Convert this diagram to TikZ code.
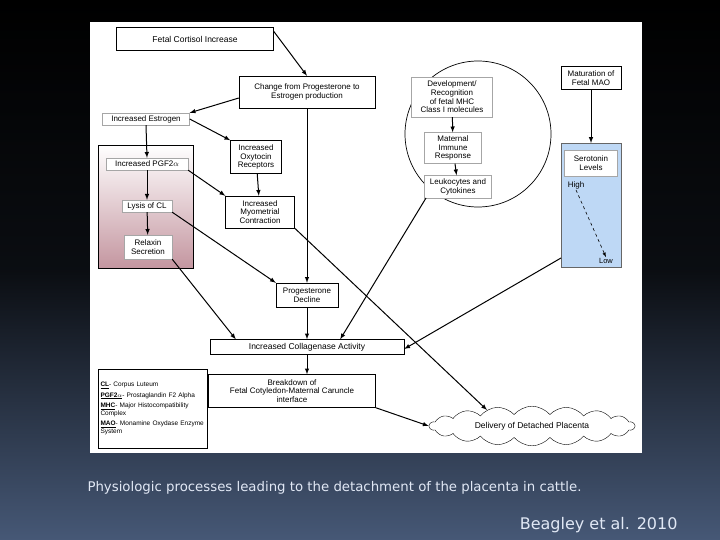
\documentclass[tikz,border=0pt]{standalone}
\usepackage{fontspec}
\setmainfont{Liberation Sans}
\newfontfamily\capfont{DejaVu Sans}
\usepackage{tikz}
\usetikzlibrary{arrows,shapes.symbols}
\definecolor{slidebot}{RGB}{70,88,118}
\definecolor{pinkbot}{RGB}{196,150,160}
\definecolor{bluebox}{RGB}{190,216,245}
\definecolor{captxt}{RGB}{225,232,245}
\tikzset{
  box/.style={draw, fill=white, align=center, font=\fontsize{8}{8.6}\selectfont, inner sep=1pt},
  gbox/.style={box, draw=gray!70},
  arr/.style={->, >=latex, line width=1pt},
}
\begin{document}
\begin{tikzpicture}[x=1pt,y=-1pt]
\useasboundingbox (0,0) rectangle (720,540);
% background
\shade[top color=black, bottom color=slidebot, middle color=black!85!slidebot] (0,0) rectangle (720,540);
\fill[white] (90,22) rectangle (642,453);
% panels
\shade[draw, top color=white, bottom color=pinkbot] (98,145) rectangle (193,268);
\filldraw[fill=bluebox, draw=black!60] (561,143) rectangle (621,267);
\draw[fill=white, line width=0.7pt] (478,134) circle (73);
% nodes
\node(cortisol) at (195,39) [box, minimum width=157, minimum height=23, font=\fontsize{8.5}{9}\selectfont] {Fetal Cortisol Increase};
\node(change) at (307,92) [box, minimum width=136, minimum height=32] {Change from Progesterone to\\Estrogen production};
\node(estrogen) at (146,119) [gbox, minimum width=87, minimum height=12] {Increased Estrogen};
\node(pgf) at (147,164) [gbox, minimum width=82, minimum height=12] {Increased PGF2$\alpha$};
\node(lysis) at (147,206) [gbox, minimum width=50, minimum height=12] {Lysis of CL};
\node(relaxin) at (148,247) [gbox, minimum width=48, minimum height=24] {Relaxin\\Secretion};
\node(oxytocin) at (256,157) [box, minimum width=51, minimum height=33] {Increased\\Oxytocin\\Receptors};
\node(myo) at (260,212) [box, minimum width=69, minimum height=32] {Increased\\Myometrial\\Contraction};
\node(mhc) at (452,97) [gbox, minimum width=81, minimum height=40] {Development/\\Recognition\\of fetal MHC\\Class I molecules};
\node(immune) at (453,148) [gbox, minimum width=57, minimum height=31] {Maternal\\Immune\\Response};
\node(leuko) at (458,187) [gbox, minimum width=67, minimum height=23] {Leukocytes and\\Cytokines};
\node(mao) at (591,78) [box, minimum width=60, minimum height=23] {Maturation of\\Fetal MAO};
\node(serotonin) at (591,163) [gbox, minimum width=53, minimum height=26] {Serotonin\\Levels};
\node(high) at (576,185) [font=\fontsize{8}{8}\selectfont, inner sep=1pt] {High};
\node(low) at (606,261) [font=\fontsize{7.5}{8}\selectfont, inner sep=1pt] {Low};
\node(progdec) at (307,295) [box, minimum width=62, minimum height=24] {Progesterone\\Decline};
\node(collag) at (307,347) [box, minimum width=194, minimum height=15, font=\fontsize{8.5}{9}\selectfont] {Increased Collagenase Activity};
\node(breakdown) at (292,391) [box, minimum width=167, minimum height=33] {Breakdown of\\Fetal Cotyledon-Maternal Caruncle\\interface};
\node(delivery) at (532,426) [draw, cloud, cloud puffs=18, cloud puff arc=100, aspect=6, minimum width=205, minimum height=30, inner sep=0pt, font=\fontsize{8.5}{9}\selectfont] {Delivery of Detached Placenta};
\node(legend) at (152.5,408.5) [draw, minimum width=109, minimum height=79, align=left, text width=104, inner sep=2pt, font=\fontsize{6.5}{7.6}\selectfont] {\underline{\textbf{CL}}- Corpus Luteum\\[3pt]\underline{\textbf{PGF2$\alpha$}}- Prostaglandin F2 Alpha\\[3pt]\underline{\textbf{MHC}}- Major Histocompatibility Complex\\[3pt]\underline{\textbf{MAO}}- Monamine Oxydase Enzyme System};
\node(caption) at (84,488) [anchor=west, text=captxt, font=\capfont\fontsize{13.3}{14}\selectfont] {Physiologic processes leading to the detachment of the placenta in cattle.};
\node(credit) at (681,525) [anchor=east, text=captxt, font=\capfont\fontsize{16}{17}\selectfont] {Beagley et al. 2010};
% connectors
\draw[arr] (cortisol.north east) ++(0,4) coordinate (c1) (c1) -- (change.north);
\draw[arr] (change.west) ++(0,6) coordinate (c2) (c2) -- (estrogen.north east);
\draw[arr] (estrogen.south) -- (pgf.north);
\draw[arr] (estrogen.east) -- (oxytocin.north west);
\draw[arr] (pgf.south east) -- (myo.north west);
\draw[arr] (oxytocin) -- (myo);
\draw[arr] (pgf) -- (lysis);
\draw[arr] (lysis) -- (relaxin);
\draw[arr] (change.south) -- (progdec.north);
\draw[arr] (lysis.south east) -- (progdec.north west);
\draw[arr] (relaxin.south east) -- ([xshift=26pt]collag.north west);
\draw[arr] (myo.south east) -- (487,410);
\coordinate(circbot) at (426,198);
\draw[arr] (circbot) -- ([xshift=-64pt]collag.north east);
\coordinate(s1) at (561,258);
\draw[arr] (s1) -- ([yshift=-2pt]collag.east);
\draw[arr] (mao) -- (mao |- 0,143);
\draw[arr] (mhc) -- (immune);
\draw[arr] (immune) -- (leuko);
\draw[->, >=latex, dashed, line width=0.6pt] (high.south) -- (low.north);
\draw[arr] (progdec) -- (collag);
\draw[arr] (collag.south) -- (collag.south |- breakdown.north);
\draw[arr] (breakdown.south east) -- (delivery.west);
\end{tikzpicture}
\end{document}
